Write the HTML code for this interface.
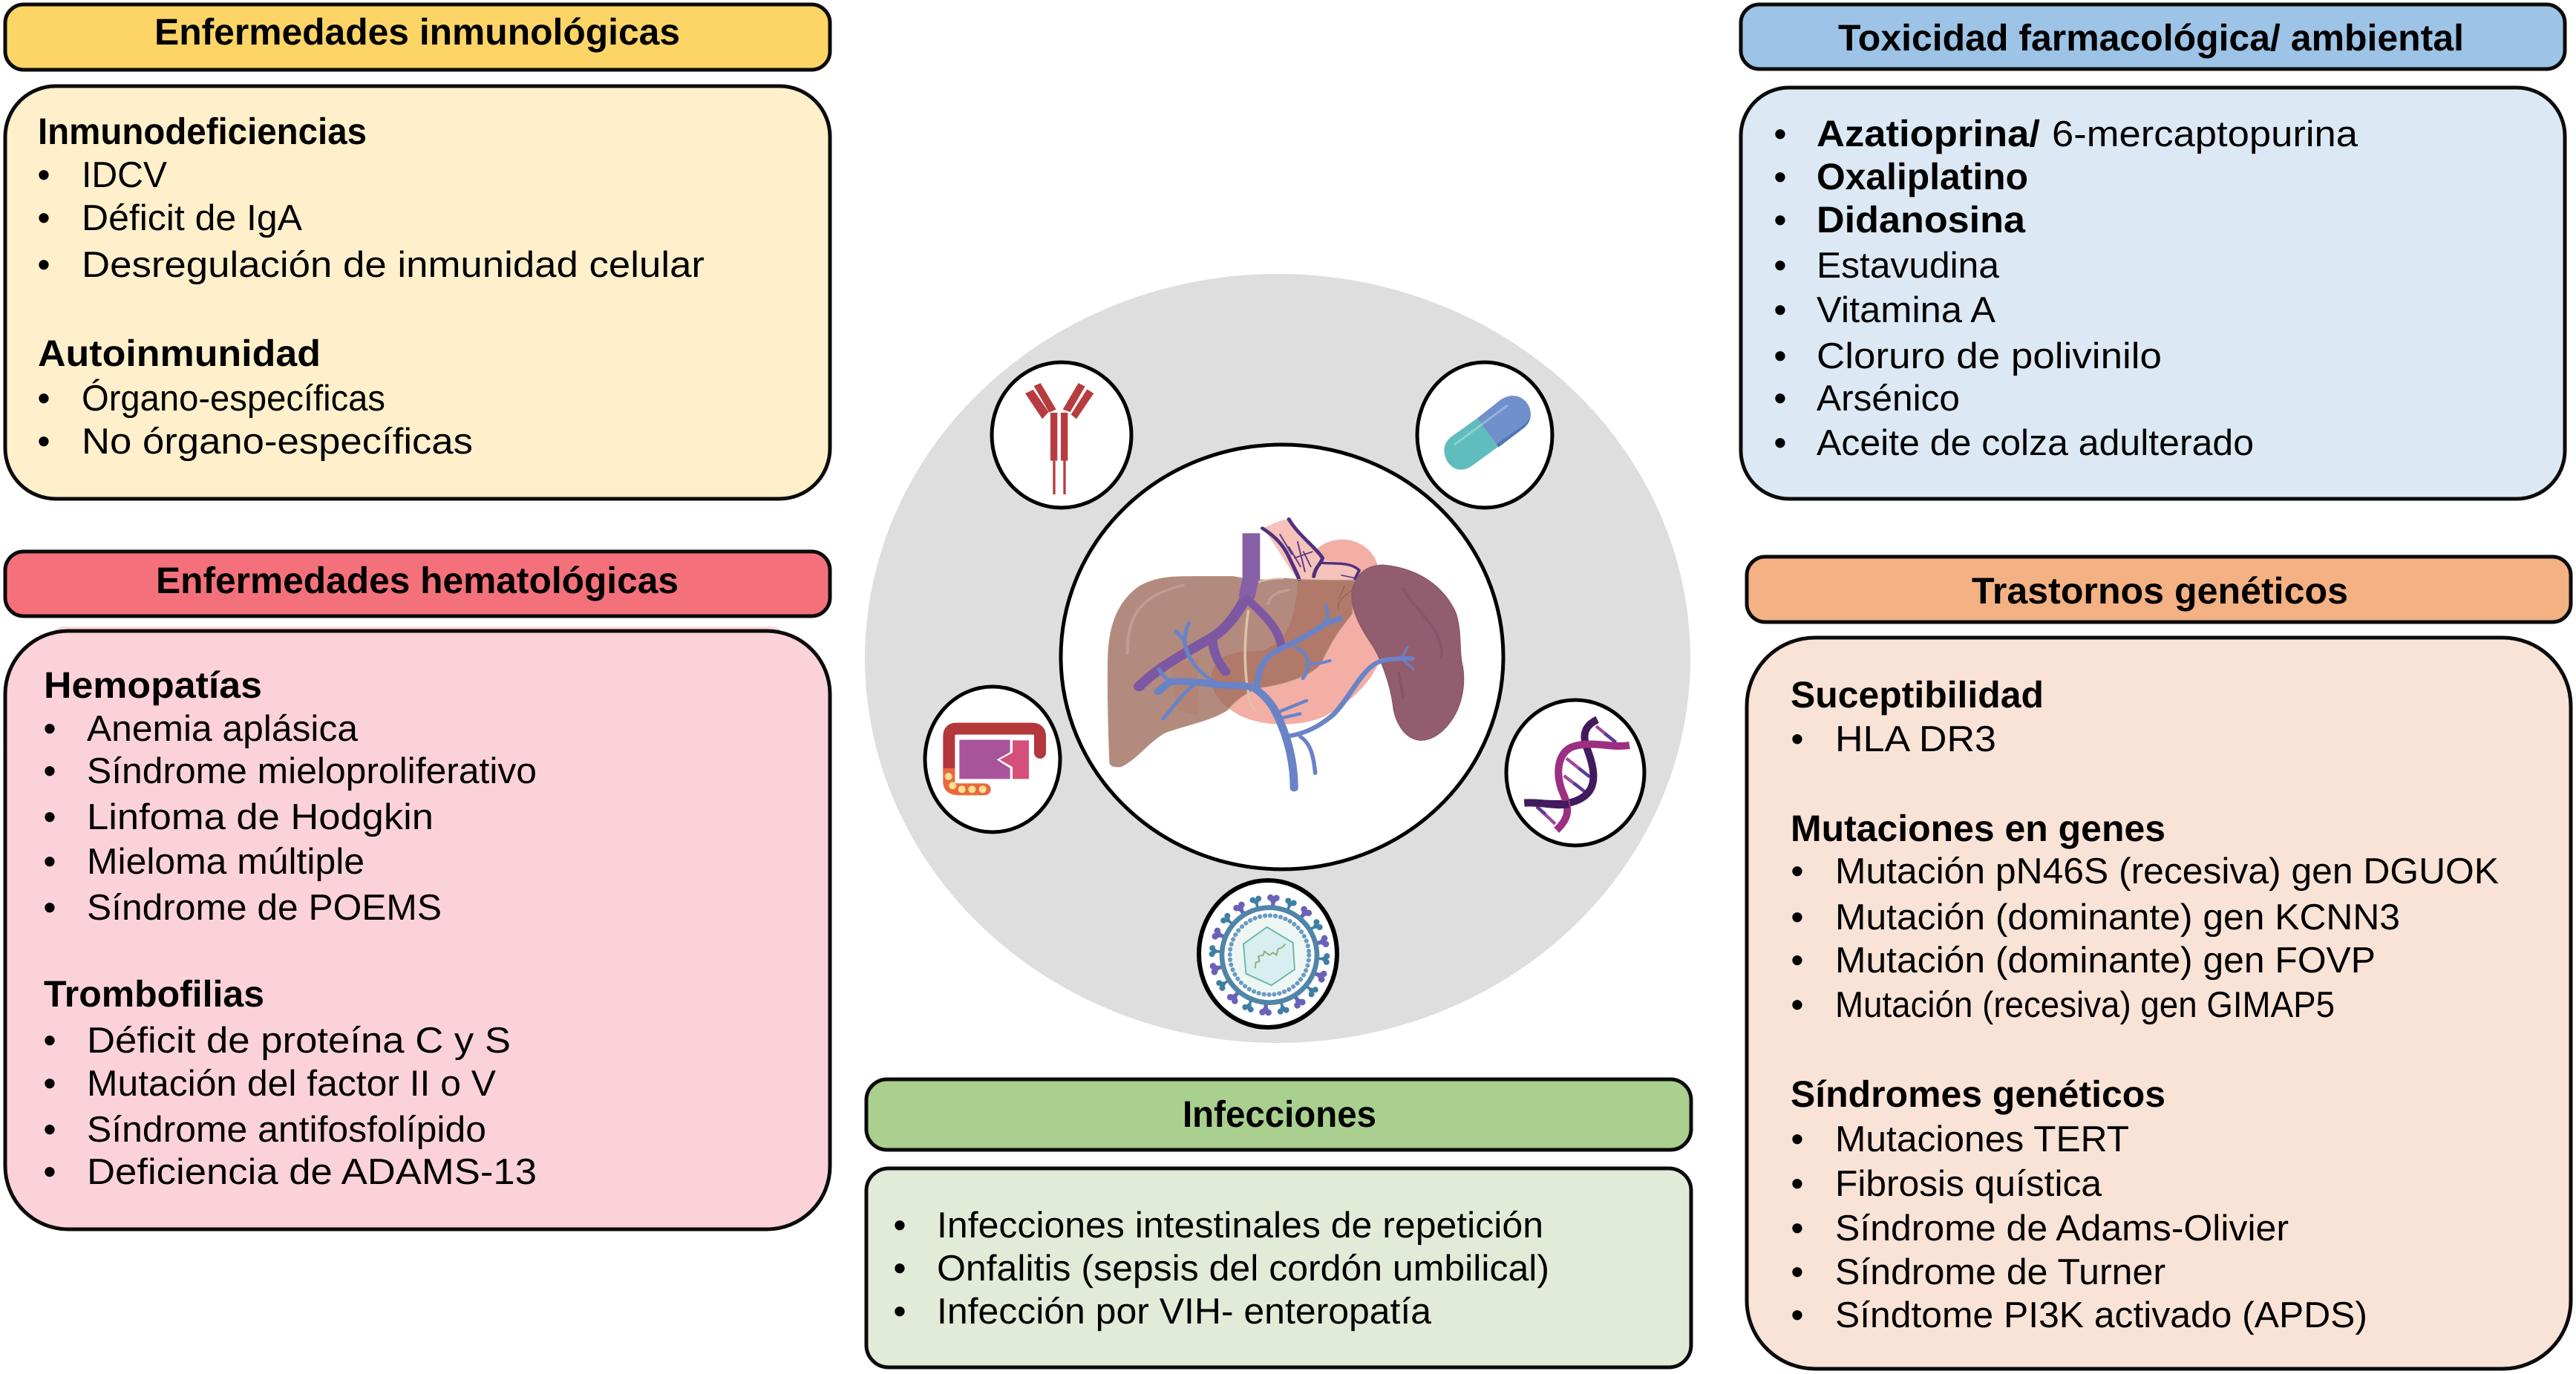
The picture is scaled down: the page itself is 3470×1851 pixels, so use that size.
<!DOCTYPE html>
<html lang="es">
<head>
<meta charset="utf-8">
<title>Diagrama</title>
<style>
html,body{margin:0;padding:0;background:#fff;width:3470px;height:1851px;overflow:hidden}
svg{display:block}
text{font-family:"Liberation Sans",Arial,sans-serif;fill:#000;text-rendering:geometricPrecision}
.r text{font-size:49px}
.b text{font-size:50px;font-weight:700}
.h text{font-size:50px;font-weight:700}
.d text{font-size:49px;text-anchor:middle}
.box{stroke:#0b0b0b;stroke-width:5}
</style>
</head>
<body>
<svg xmlns="http://www.w3.org/2000/svg" width="3470" height="1851" viewBox="0 0 3470 1851">
<defs>
<g id="sT"><path d="M0-185V-222" stroke="#3f7ea6" stroke-width="11" fill="none"/><circle cx="-12" cy="-232" r="12" fill="#3f7ea6"/><circle cx="12" cy="-232" r="12" fill="#3f7ea6"/><circle cx="0" cy="-221" r="10" fill="#3f7ea6"/></g>
<g id="sP"><path d="M0-185V-222" stroke="#6a62b8" stroke-width="16" fill="none"/><circle cx="-12" cy="-232" r="13" fill="#6a62b8"/><circle cx="12" cy="-232" r="13" fill="#6a62b8"/><circle cx="0" cy="-221" r="12" fill="#6a62b8"/></g>
</defs>

<!-- Boxes -->
<rect class="box" x="7" y="6" width="1111" height="88" rx="25" fill="#fdd567"/>
<rect class="box" x="7" y="116" width="1111" height="556" rx="68" fill="#fff0cb"/>
<rect class="box" x="7" y="743" width="1111" height="87" rx="25" fill="#f4717b"/>
<rect x="70" y="844" width="985" height="30" rx="15" fill="#fcd9df"/>
<rect class="box" x="7" y="850" width="1111" height="806" rx="85" fill="#fcd2da"/>
<rect class="box" x="2345" y="6" width="1110" height="87" rx="25" fill="#9dc3e6"/>
<rect class="box" x="2345" y="118" width="1110" height="554" rx="65" fill="#dce8f3"/>
<rect class="box" x="2353" y="750" width="1110" height="88" rx="25" fill="#f4b183"/>
<rect class="box" x="2353" y="859" width="1110" height="985" rx="92" fill="#f9e2d6"/>
<rect class="box" x="1167" y="1454" width="1111" height="95" rx="28" fill="#a9d08e"/>
<rect class="box" x="1167" y="1574" width="1111" height="268" rx="30" fill="#e2ebd8"/>

<!-- Headers -->
<g class="h">
<text x="208" y="60" textLength="708" lengthAdjust="spacingAndGlyphs">Enfermedades inmunológicas</text>
<text x="210" y="799" textLength="704" lengthAdjust="spacingAndGlyphs">Enfermedades hematológicas</text>
<text x="2476" y="68" textLength="843" lengthAdjust="spacingAndGlyphs">Toxicidad farmacológica/ ambiental</text>
<text x="2656" y="813" textLength="507" lengthAdjust="spacingAndGlyphs">Trastornos genéticos</text>
<text x="1593" y="1518" textLength="261" lengthAdjust="spacingAndGlyphs">Infecciones</text>
</g>

<!-- Left top -->
<g class="b">
<text x="51" y="194" textLength="443" lengthAdjust="spacingAndGlyphs">Inmunodeficiencias</text>
<text x="51" y="493" textLength="381" lengthAdjust="spacingAndGlyphs">Autoinmunidad</text>
</g>
<g class="d"><text x="59" y="252">•</text><text x="59" y="310">•</text><text x="59" y="373">•</text><text x="59" y="553">•</text><text x="59" y="611">•</text></g>
<g class="r">
<text x="110" y="252" textLength="115" lengthAdjust="spacingAndGlyphs">IDCV</text>
<text x="110" y="310" textLength="297" lengthAdjust="spacingAndGlyphs">Déficit de IgA</text>
<text x="110" y="373" textLength="839" lengthAdjust="spacingAndGlyphs">Desregulación de inmunidad celular</text>
<text x="110" y="553" textLength="409" lengthAdjust="spacingAndGlyphs">Órgano-específicas</text>
<text x="110" y="611" textLength="527" lengthAdjust="spacingAndGlyphs">No órgano-específicas</text>
</g>

<!-- Left bottom -->
<g class="b">
<text x="59" y="940" textLength="294" lengthAdjust="spacingAndGlyphs">Hemopatías</text>
<text x="59" y="1356" textLength="297" lengthAdjust="spacingAndGlyphs">Trombofilias</text>
</g>
<g class="d"><text x="67" y="998">•</text><text x="67" y="1055">•</text><text x="67" y="1117">•</text><text x="67" y="1177">•</text><text x="67" y="1239">•</text><text x="67" y="1418">•</text><text x="67" y="1476">•</text><text x="67" y="1538">•</text><text x="67" y="1595">•</text></g>
<g class="r">
<text x="117" y="998" textLength="365" lengthAdjust="spacingAndGlyphs">Anemia aplásica</text>
<text x="117" y="1055" textLength="606" lengthAdjust="spacingAndGlyphs">Síndrome mieloproliferativo</text>
<text x="117" y="1117" textLength="467" lengthAdjust="spacingAndGlyphs">Linfoma de Hodgkin</text>
<text x="117" y="1177" textLength="374" lengthAdjust="spacingAndGlyphs">Mieloma múltiple</text>
<text x="117" y="1239" textLength="478" lengthAdjust="spacingAndGlyphs">Síndrome de POEMS</text>
<text x="117" y="1418" textLength="571" lengthAdjust="spacingAndGlyphs">Déficit de proteína C y S</text>
<text x="117" y="1476" textLength="551" lengthAdjust="spacingAndGlyphs">Mutación del factor II o V</text>
<text x="117" y="1538" textLength="538" lengthAdjust="spacingAndGlyphs">Síndrome antifosfolípido</text>
<text x="117" y="1595" textLength="606" lengthAdjust="spacingAndGlyphs">Deficiencia de ADAMS-13</text>
</g>

<!-- Right top -->
<g class="d"><text x="2398" y="197">•</text><text x="2398" y="255">•</text><text x="2398" y="313">•</text><text x="2398" y="374">•</text><text x="2398" y="434">•</text><text x="2398" y="496">•</text><text x="2398" y="553">•</text><text x="2398" y="613">•</text></g>
<g class="b">
<text x="2447" y="197" textLength="301" lengthAdjust="spacingAndGlyphs">Azatioprina/</text>
<text x="2447" y="255" textLength="285" lengthAdjust="spacingAndGlyphs">Oxaliplatino</text>
<text x="2447" y="313" textLength="281" lengthAdjust="spacingAndGlyphs">Didanosina</text>
</g>
<g class="r">
<text x="2764" y="197" textLength="412" lengthAdjust="spacingAndGlyphs">6-mercaptopurina</text>
<text x="2447" y="374" textLength="246" lengthAdjust="spacingAndGlyphs">Estavudina</text>
<text x="2447" y="434" textLength="241" lengthAdjust="spacingAndGlyphs">Vitamina A</text>
<text x="2447" y="496" textLength="465" lengthAdjust="spacingAndGlyphs">Cloruro de polivinilo</text>
<text x="2447" y="553" textLength="193" lengthAdjust="spacingAndGlyphs">Arsénico</text>
<text x="2447" y="613" textLength="589" lengthAdjust="spacingAndGlyphs">Aceite de colza adulterado</text>
</g>

<!-- Right bottom -->
<g class="b">
<text x="2412" y="953" textLength="341" lengthAdjust="spacingAndGlyphs">Suceptibilidad</text>
<text x="2412" y="1133" textLength="505" lengthAdjust="spacingAndGlyphs">Mutaciones en genes</text>
<text x="2412" y="1491" textLength="505" lengthAdjust="spacingAndGlyphs">Síndromes genéticos</text>
</g>
<g class="d"><text x="2421" y="1012">•</text><text x="2421" y="1190">•</text><text x="2421" y="1252">•</text><text x="2421" y="1310">•</text><text x="2421" y="1370">•</text><text x="2421" y="1551">•</text><text x="2421" y="1611">•</text><text x="2421" y="1671">•</text><text x="2421" y="1730">•</text><text x="2421" y="1788">•</text></g>
<g class="r">
<text x="2472" y="1012" textLength="217" lengthAdjust="spacingAndGlyphs">HLA DR3</text>
<text x="2472" y="1190" textLength="894" lengthAdjust="spacingAndGlyphs">Mutación pN46S (recesiva) gen DGUOK</text>
<text x="2472" y="1252" textLength="761" lengthAdjust="spacingAndGlyphs">Mutación (dominante) gen KCNN3</text>
<text x="2472" y="1310" textLength="728" lengthAdjust="spacingAndGlyphs">Mutación (dominante) gen FOVP</text>
<text x="2472" y="1370" textLength="673" lengthAdjust="spacingAndGlyphs">Mutación (recesiva) gen GIMAP5</text>
<text x="2472" y="1551" textLength="396" lengthAdjust="spacingAndGlyphs">Mutaciones TERT</text>
<text x="2472" y="1611" textLength="359" lengthAdjust="spacingAndGlyphs">Fibrosis quística</text>
<text x="2472" y="1671" textLength="611" lengthAdjust="spacingAndGlyphs">Síndrome de Adams-Olivier</text>
<text x="2472" y="1730" textLength="445" lengthAdjust="spacingAndGlyphs">Síndrome de Turner</text>
<text x="2472" y="1788" textLength="717" lengthAdjust="spacingAndGlyphs">Síndtome PI3K activado (APDS)</text>
</g>

<!-- Center bottom -->
<g class="d"><text x="1212" y="1667">•</text><text x="1212" y="1725">•</text><text x="1212" y="1783">•</text></g>
<g class="r">
<text x="1262" y="1667" textLength="817" lengthAdjust="spacingAndGlyphs">Infecciones intestinales de repetición</text>
<text x="1262" y="1725" textLength="825" lengthAdjust="spacingAndGlyphs">Onfalitis (sepsis del cordón umbilical)</text>
<text x="1262" y="1783" textLength="666" lengthAdjust="spacingAndGlyphs">Infección por VIH- enteropatía</text>
</g>

<!-- Circles -->
<ellipse cx="1721" cy="887" rx="556" ry="518" fill="#dedede"/>
<ellipse cx="1727" cy="885" rx="298" ry="286" fill="#fff" stroke="#000" stroke-width="5"/>
<ellipse cx="1430" cy="586" rx="94" ry="98" fill="#fff" stroke="#000" stroke-width="5"/>
<ellipse cx="2000" cy="586" rx="91" ry="98" fill="#fff" stroke="#000" stroke-width="5"/>
<ellipse cx="1337" cy="1023" rx="91" ry="98" fill="#fff" stroke="#000" stroke-width="5"/>
<ellipse cx="2122" cy="1041" rx="93" ry="98" fill="#fff" stroke="#000" stroke-width="5"/>
<ellipse cx="1708" cy="1285" rx="93" ry="99" fill="#fff" stroke="#000" stroke-width="6"/>

<!-- Liver illustration -->
<g transform="translate(1400,680) scale(.3954,.3333)" fill="none" stroke-linecap="round" stroke-linejoin="round">
<!-- stomach -->
<path d="M880 310C900 250 930 145 1030 140C1100 140 1150 200 1155 260L1165 600C1150 700 1060 800 980 850C900 900 760 900 680 850C620 810 585 760 585 700C590 620 640 590 760 590C830 560 870 500 880 310Z" fill="#f3aea6"/>
<!-- esophagus -->
<path d="M760 95C790 80 820 60 850 58C880 120 940 170 965 215C1000 240 1060 240 1090 265L1075 310H885C850 260 800 150 760 95Z" fill="#f5c3b9"/>
<path d="M760 95C800 125 830 160 850 210C865 250 880 280 885 303M850 58C880 120 940 170 965 215C960 240 940 250 935 290" stroke="#50307f" stroke-width="13"/>
<path d="M965 235C1010 240 1060 230 1090 265L1075 300" stroke="#50307f" stroke-width="10"/>
<path d="M820 120L860 200M880 150L905 270M870 215L930 190M1030 285L1070 295M850 170L890 250M900 190L925 250" stroke="#5a3a88" stroke-width="5"/>
<!-- purple vein upper trunk -->
<rect x="692" y="115" width="60" height="190" fill="#8560a5"/>
<!-- liver -->
<path d="M240 1040C235 900 232 700 235 600C240 480 270 390 340 330C400 290 450 290 540 290H660C700 300 760 310 830 297C900 305 1000 305 1072 305L1066 440C1020 510 1000 540 960 640C930 690 840 725 750 740C700 760 670 790 640 830C590 870 500 890 430 920C370 960 340 1020 280 1058C255 1062 240 1055 240 1040Z" fill="#9c6a5a" fill-opacity=".78" stroke="#b49283" stroke-width="3"/>
<path d="M445 650L540 620V850L470 830Z" fill="#b5705f" fill-opacity=".3"/>
<path d="M300 600C300 450 340 370 490 325" stroke="#c9aca0" stroke-width="10" opacity=".6"/>
<path d="M780 400C785 370 810 350 850 345" stroke="#c9aca0" stroke-width="10" opacity=".6"/>
<path d="M1065 345C1035 370 1010 400 1020 420M1040 330L1020 380" stroke="#8d5f50" stroke-width="3"/>
<!-- spleen -->
<path d="M1065 350C1075 285 1110 245 1170 243C1290 255 1380 330 1420 440C1440 520 1430 590 1440 640C1455 720 1440 810 1405 870C1370 930 1330 955 1295 952C1240 945 1210 870 1205 810C1195 720 1160 610 1130 560C1090 490 1060 420 1065 350Z" fill="#925d6e" stroke="#8a5566" stroke-width="3"/>
<path d="M1240 340C1280 430 1380 500 1370 620M1225 680L1240 780" stroke="#7f4a68" stroke-width="10" opacity=".5"/>
<!-- tan -->
<path d="M712 430C700 520 695 650 712 760C715 800 728 825 738 832" stroke="#dcc3a6" stroke-width="9"/>
<path d="M735 318C760 305 790 298 830 298" stroke="#dcc3a6" stroke-width="6"/>
<!-- purple vein -->
<path d="M722 290L708 365C680 430 640 500 590 535C510 590 400 660 340 735" stroke="#7d58a2" stroke-width="38"/>
<path d="M722 290L708 365" stroke="#8560a5" stroke-width="56"/>
<path d="M590 540C590 590 610 640 635 675" stroke="#7d58a2" stroke-width="32"/>
<path d="M708 380C750 430 815 490 825 575" stroke="#7d58a2" stroke-width="30"/>
<!-- portal -->
<g stroke="#6a83c7">
<path d="M868 1145C868 1050 850 960 825 890C800 810 770 770 730 740C690 725 640 735 590 725C540 715 490 712 445 715L405 755" stroke-width="28"/>
<path d="M600 720C550 680 510 640 495 560C495 530 500 500 510 478M495 550L465 510M445 715C430 700 420 690 408 665M525 730C490 760 455 820 422 865" stroke-width="14"/>
<path d="M740 745C745 670 760 620 810 590C860 560 930 520 975 480L1025 460" stroke-width="21"/>
<path d="M978 470C985 450 980 425 978 405M870 575C900 590 920 620 915 650C915 670 905 690 898 702M915 640C940 645 965 640 990 630" stroke-width="12"/>
<path d="M820 835L910 792M825 862L888 845" stroke-width="13"/>
<path d="M848 935C910 925 960 890 1000 850C1050 790 1080 710 1125 660C1160 620 1200 622 1270 622" stroke-width="18"/>
<path d="M1235 618L1255 575M1235 622L1275 665" stroke-width="8"/>
<path d="M890 938C925 965 935 1020 940 1085" stroke-width="14"/>
</g>
</g>

<!-- Antibody -->
<g transform="translate(1300,470) scale(.3333)" fill="#b63c40">
<rect x="345" y="258" width="28" height="194"/><rect x="387" y="258" width="28" height="194"/>
<rect x="355" y="452" width="10" height="136"/><rect x="397" y="452" width="10" height="136"/>
<path d="M243 180L275 165L338 255L312 283ZM278 150L305 138L368 245L340 257ZM395 245L458 138L485 152L425 255ZM428 265L493 163L520 180L450 283Z"/>
</g>

<!-- Pill -->
<g transform="translate(1890,470) scale(.3333)">
<path d="M300 280L395 205C440 175 490 190 510 235C525 275 510 300 490 318L385 398Z" fill="#6f90cb"/>
<path d="M385 398L490 318C505 305 513 290 514 270C510 290 500 298 485 310L378 385Z" fill="#4f74b5"/>
<path d="M300 280L385 395L275 475C225 505 185 480 170 435C160 400 170 375 195 355Z" fill="#5fbdbd"/>
<path d="M210 385L420 230" stroke="#fff" stroke-opacity=".3" stroke-width="9" stroke-linecap="round"/>
</g>

<!-- Portal icon -->
<g transform="translate(1230,910) scale(.3333)" fill="none">
<path d="M145 375V430Q145 460 185 460H290" stroke="#e8693f" stroke-width="48" stroke-linecap="round"/>
<path d="M513 312V245Q513 215 480 215H175Q145 215 145 245V375" stroke="#b3373b" stroke-width="48" stroke-linecap="round"/>
<rect x="121" y="375" width="48" height="20" fill="#e8693f"/>
<g fill="#fde08e"><circle cx="143" cy="408" r="15"/><circle cx="160" cy="445" r="15"/><circle cx="197" cy="460" r="15"/><circle cx="238" cy="460" r="15"/><circle cx="281" cy="460" r="15"/></g>
<path d="M187 260H392V310L338 340L392 375V418H187Z" fill="#a8549a"/>
<path d="M402 262H468V418H402V370L350 340L402 312Z" fill="#d4507a"/>
</g>

<!-- DNA -->
<g transform="translate(2010,930) scale(.3333)" fill="none">
<path d="M420 145L500 210M300 275L395 350M290 345L375 410M180 470L255 540" stroke="#a04a9c" stroke-width="13"/>
<path d="M455 175L500 210M350 315L395 350M330 375L375 410M180 470L215 500" stroke="#5a3a98" stroke-width="13"/>
<path d="M130 455C200 450 300 480 370 430C440 380 400 280 378 220C365 170 380 140 425 118" stroke="#421a5e" stroke-width="30"/>
<path d="M555 222C480 235 400 200 320 230C260 260 260 340 280 400C310 470 320 510 260 565" stroke="#9c2f80" stroke-width="30"/>
<path d="M130 455C200 450 250 470 310 460" stroke="#421a5e" stroke-width="30"/>
</g>

<!-- Virus -->
<g transform="translate(1600,1170) scale(.3333)">
<g transform="translate(330,350)">
<circle r="155" fill="#eef6f4"/>
<use href="#sP" transform="rotate(4)"/><use href="#sT" transform="rotate(22)"/><use href="#sP" transform="rotate(40)"/><use href="#sT" transform="rotate(58)"/><use href="#sP" transform="rotate(76)"/><use href="#sT" transform="rotate(94)"/><use href="#sP" transform="rotate(112)"/><use href="#sT" transform="rotate(130)"/><use href="#sP" transform="rotate(148)"/><use href="#sT" transform="rotate(166)"/><use href="#sP" transform="rotate(184)"/><use href="#sT" transform="rotate(202)"/><use href="#sP" transform="rotate(220)"/><use href="#sT" transform="rotate(238)"/><use href="#sP" transform="rotate(256)"/><use href="#sT" transform="rotate(274)"/><use href="#sP" transform="rotate(292)"/><use href="#sT" transform="rotate(310)"/><use href="#sP" transform="rotate(328)"/><use href="#sT" transform="rotate(346)"/>
<circle r="192" fill="none" stroke="#4f85a8" stroke-width="20"/>
<circle r="160" fill="none" stroke="#6a9cc0" stroke-width="18" stroke-linecap="round" stroke-dasharray="1 20"/>
</g>
<path d="M320 237L425 300L432 408L338 472L235 425L225 305Z" fill="#d8eef0" stroke="#6fb8ae" stroke-width="6"/>
<path d="M272 403L275 380L290 375L285 355L305 350L310 335L330 350L345 340L358 350L365 325L380 320L395 305" fill="none" stroke="#8fb080" stroke-width="6"/>
</g>
</svg>
</body>
</html>
